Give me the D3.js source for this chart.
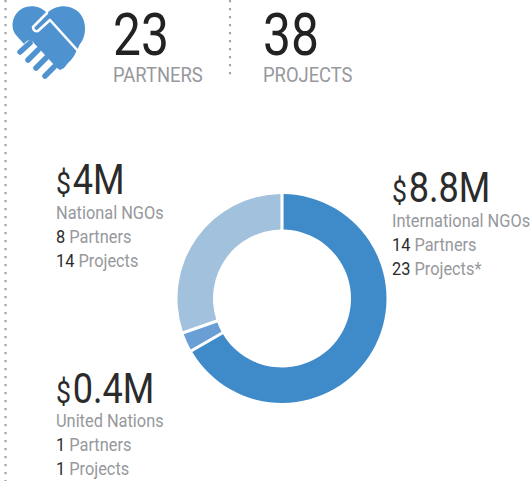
<!DOCTYPE html>
<html><head><meta charset="utf-8">
<script src="https://cdn.jsdelivr.net/npm/d3@7"></script>
<style>html,body{margin:0;padding:0;background:#fff}svg{display:block}text{font-family:Roboto,sans-serif}</style>
</head><body><svg id="c" width="532" height="481"></svg>
<script>
const categories=["International NGOs","United Nations","National NGOs"];
const amounts=[8.8,0.4,4];
const amountLabels=["8.8M","0.4M","4M"];
const partners=[14,1,8];
const projects=[23,1,14];
const projectSuffix=["*","",""];
const sliceColors=["#3f8bca","#6a9fd6","#a2c1dc"];
const headlineValues=[23,38];
const headlineLabels=["PARTNERS","PROJECTS"];

const svg=d3.select("#c");
const dark="#2b2b2b",grey="#96989c",dots="#a3a5a8",iconBlue="#4f92d0";
const sx=.875;

// dotted rules
[[5.5,0,481],[230,0,78]].forEach(([x,a,b])=>svg.append("line").attr("x1",x).attr("x2",x).attr("y1",a).attr("y2",b)
 .attr("stroke",dots).attr("stroke-width",2.2).attr("stroke-dasharray","2.2 5.8"));

// icon
const ic=svg.append("g");
ic.append("path").attr("fill",iconBlue)
 .attr("d","M24 44 L16 35 C9 26 13 11 26 7 C35 5 42 8 47 13 C54 6 66 4 74 9 C87 15 88 35 80 44 L77 50 L74 56 L71 60 L68 63 L64 68 L60 70 L57 68 L32 41 C29 39 26 41 24 44 Z");
ic.append("path").attr("fill","none").attr("stroke","#fff").attr("stroke-width",2.6).attr("stroke-linejoin","round").attr("stroke-linecap","round")
 .attr("d","M78 51 L50 20 L39 30 C36 33 33 30 33 27 L47 13");
ic.append("g").attr("stroke",iconBlue).attr("stroke-width",5.5).attr("stroke-linecap","round")
 .selectAll("line").data([[20,52,30,43],[28,60,38,50],[36,68,46,58],[45,76,54,67]]).join("line")
 .attr("x1",d=>d[0]).attr("y1",d=>d[1]).attr("x2",d=>d[2]).attr("y2",d=>d[3]);

function txt(x,y,size,fill,s){return svg.append("text").attr("transform",`translate(${x},${y}) scale(${s||sx},1)`)
 .attr("font-size",size).attr("font-weight",400).attr("fill",fill);}

// headlines
[113,263].forEach((x,i)=>{
 txt(x,55,60,"#222",.83).text(headlineValues[i]);
 txt(x,82,21,grey).text(headlineLabels[i]);
});

// donut
const R=104.5,r=69;
const pie=d3.pie().sort(null)(amounts);
const arc=d3.arc().innerRadius(r).outerRadius(R).padAngle(.025);
svg.append("g").attr("transform","translate(282,298.5)").selectAll("path").data(pie).join("path")
 .attr("d",arc).attr("fill",(d,i)=>sliceColors[i]);

// labels
const anchors=[[392,202],[56,403],[56,194]];
categories.forEach((c,i)=>{
 const [x,y]=anchors[i];
 const a=txt(x,y,42,dark,.86);
 a.append("tspan").attr("font-size",31).text("$");
 a.append("tspan").attr("dx",2).text(amountLabels[i]);
 const base=i===1?402:y;
 txt(x,base+24.5,18.7,grey).text(c);
 const p=txt(x,base+48.5,18.7,grey);
 p.append("tspan").attr("fill",dark).text(partners[i]);
 p.append("tspan").text(" Partners");
 const q=txt(x,base+72.5,18.7,grey);
 q.append("tspan").attr("fill",dark).text(projects[i]);
 q.append("tspan").text(" Projects"+projectSuffix[i]);
});
</script></body></html>
